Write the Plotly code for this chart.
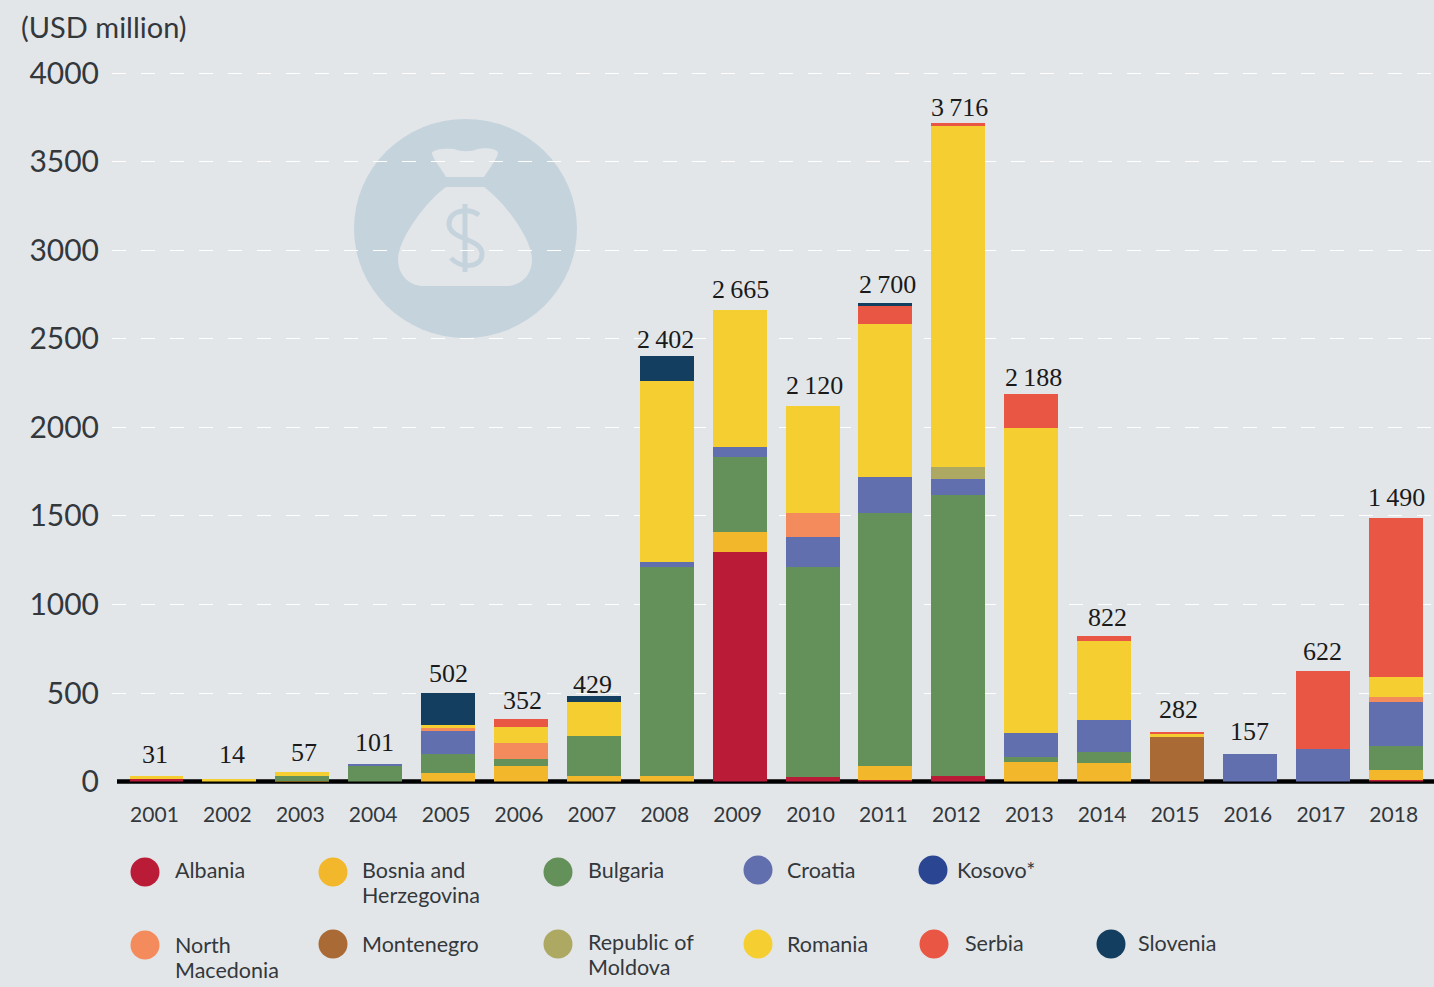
import plotly.graph_objects as go

W, H = 1434, 987
BG = "#E3E6E9"

years = list(range(2001, 2019))
totals = [31, 14, 57, 101, 502, 352, 429, 2402, 2665, 2120, 2700, 3716, 2188, 822, 282, 157, 622, 1490]
total_text = ["31", "14", "57", "101", "502", "352", "429", "2\u2009402", "2\u2009665", "2\u2009120", "2\u2009700",
              "3\u2009716", "2\u2009188", "822", "282", "157", "622", "1\u2009490"]

albania =    [13, 0, 0, 0, 0, 0, 0, 0, 1296, 26, 10, 32, 0, 0, 0, 0, 0, 11]
bosnia =     [0, 0, 5, 0, 48, 88, 32, 32, 113, 0, 78, 0, 112, 105, 0, 0, 0, 56]
bulgaria =   [0, 0, 25, 90, 110, 38, 227, 1179, 424, 1185, 1429, 1586, 25, 64, 0, 0, 0, 136]
croatia =    [0, 0, 0, 11, 133, 0, 0, 29, 57, 170, 203, 90, 136, 179, 0, 157, 182, 246]
kosovo =     [0] * 18
macedonia =  [0, 0, 0, 0, 10, 94, 0, 0, 0, 136, 0, 0, 0, 0, 0, 0, 0, 27]
montenegro = [0, 0, 0, 0, 0, 0, 0, 0, 0, 0, 0, 0, 0, 0, 252, 0, 0, 0]
moldova =    [0, 0, 0, 0, 0, 0, 0, 0, 0, 0, 0, 68, 0, 0, 0, 0, 0, 0]
romania =    [18, 14, 27, 0, 17, 88, 190, 1022, 775, 603, 864, 1924, 1724, 446, 18, 0, 0, 113]
serbia =     [0, 0, 0, 0, 0, 44, 0, 0, 0, 0, 101, 16, 191, 28, 12, 0, 440, 901]
slovenia =   [0, 0, 0, 0, 184, 0, 34, 140, 0, 0, 15, 0, 0, 0, 0, 0, 0, 0]

series = [
    ("Albania", albania, "#BA1C38"),
    ("Bosnia and Herzegovina", bosnia, "#F3B72C"),
    ("Bulgaria", bulgaria, "#64915A"),
    ("Croatia", croatia, "#626FAE"),
    ("Kosovo*", kosovo, "#2A4693"),
    ("North Macedonia", macedonia, "#F48B5D"),
    ("Montenegro", montenegro, "#A96A35"),
    ("Republic of Moldova", moldova, "#ADA963"),
    ("Romania", romania, "#F5CF31"),
    ("Serbia", serbia, "#E95744"),
    ("Slovenia", slovenia, "#143E5F"),
]

y_ticks = [0, 500, 1000, 1500, 2000, 2500, 3000, 3500, 4000]
y_tick_text = ["0", "500", "1000", "1500", "2000", "2500", "3000", "3500", "4000"]

# pixel offsets of the total labels relative to the top of each bar
label_dx = [-1, 3, 2, -1, 0, 2, -1, -1, 1, 2, 2, 1, 2, 3, 1, 0, 0, 1]
label_dy = [22, 25, 19, 21, 19, 19, 21, 17, 20, 21, 19, 16, 17, 18, 22, 22, 20, 20]

# legend swatches: colour, circle centre
legend_swatches = [
    ("#BA1C38", 145, 872), ("#F3B72C", 333, 872), ("#64915A", 558, 872), ("#626FAE", 758, 870), ("#2A4693", 933, 870),
    ("#F48B5D", 145, 945), ("#A96A35", 333, 944), ("#ADA963", 558, 944), ("#F5CF31", 758, 944), ("#E95744", 934, 944),
    ("#143E5F", 1111, 944),
]
# legend text lines: text, left x, centre y
legend_lines = [
    ("Albania", 174, 870), ("Bosnia and", 361, 870), ("Herzegovina", 361, 895), ("Bulgaria", 587, 870),
    ("Croatia", 786, 870), ("Kosovo*", 956, 870), ("North", 174, 945), ("Macedonia", 174, 970),
    ("Montenegro", 361, 944), ("Republic of", 587, 942), ("Moldova", 587, 967), ("Romania", 786, 944),
    ("Serbia", 964, 943), ("Slovenia", 1137, 943),
]


def px(x):
    return x / W


def py(y):
    return 1 - y / H


def path_paper(cmds):
    out = []
    for c in cmds:
        out.append(c[0] + " ".join(f"{px(c[i]):.5f},{py(c[i + 1]):.5f}" for i in range(1, len(c), 2)))
    return " ".join(out)


fig = go.Figure()
for name, vals, col in series:
    fig.add_bar(x=years, y=vals, name=name, marker=dict(color=col, line=dict(width=0)), showlegend=False,
                width=0.74)

shapes = []
# icon
shapes.append(dict(type="circle", xref="paper", yref="paper", layer="below", line_width=0, fillcolor="#C5D3DD",
                   x0=px(354), x1=px(577), y0=py(119), y1=py(338)))
bag_neck = [("M", 432, 153), ("C", 432, 149, 448, 148, 454, 149), ("C", 462, 152, 470, 152, 478, 149),
            ("C", 486, 147, 498, 149, 498, 153), ("C", 498, 157, 490, 168, 484, 177), ("L", 446, 177),
            ("C", 441, 168, 432, 158, 432, 153), ("Z",)]
bag_body = [("M", 446, 187), ("L", 484, 187), ("C", 505, 202, 532, 240, 532, 259), ("C", 532, 276, 520, 286, 506, 286),
            ("L", 424, 286), ("C", 410, 286, 398, 276, 398, 259), ("C", 398, 240, 425, 202, 446, 187), ("Z",)]
for p in (bag_neck, bag_body):
    shapes.append(dict(type="path", xref="paper", yref="paper", layer="below", line_width=0, fillcolor=BG,
                       path=path_paper(p)))
dollar = [("M", 479, 215), ("C", 470, 208, 449, 209, 449, 224), ("C", 449, 240, 482, 238, 482, 254),
          ("C", 482, 268, 460, 269, 451, 258)]
shapes.append(dict(type="path", xref="paper", yref="paper", layer="below", fillcolor="rgba(0,0,0,0)",
                   line=dict(color="#C5D3DD", width=5), path=path_paper(dollar)))
shapes.append(dict(type="line", xref="paper", yref="paper", layer="below", line=dict(color="#C5D3DD", width=5),
                   x0=px(465), x1=px(465), y0=py(204), y1=py(272)))
# baseline (paper-referenced so that its lower half is not clipped by the plot area)
shapes.append(dict(type="line", xref="paper", yref="paper", layer="below", line=dict(color="#000000", width=4.5),
                   x0=px(117), x1=1, y0=py(781.6), y1=py(781.6)))
# legend circles
for col, cx, cy in legend_swatches:
    shapes.append(dict(type="circle", xref="paper", yref="paper", line_width=0, fillcolor=col,
                       x0=px(cx - 14.5), x1=px(cx + 14.5), y0=py(cy - 14.5), y1=py(cy + 14.5)))

ann = []
for yr, tot, txt, dx, dy in zip(years, totals, total_text, label_dx, label_dy):
    ann.append(dict(x=yr, y=tot, xref="x", yref="y", text=txt, showarrow=False, xshift=dx, yshift=dy,
                    font=dict(family="Liberation Serif", size=26, color="#1a1a1a"), xanchor="center", yanchor="middle"))
for text, tx, ty in legend_lines:
    ann.append(dict(x=px(tx), y=py(ty), xref="paper", yref="paper", text=text, showarrow=False, align="left",
                    xanchor="left", yanchor="middle", borderpad=0,
                    font=dict(family="Lato", size=21.5, color="#33383c")))
ann.append(dict(x=px(18.5), y=py(27), xref="paper", yref="paper", text="(USD million)", showarrow=False,
                xanchor="left", yanchor="middle", font=dict(family="Lato", size=29, color="#33383c")))

fig.update_layout(
    width=W, height=H, margin=dict(l=0, r=0, t=0, b=0, autoexpand=False), autosize=False,
    paper_bgcolor=BG, plot_bgcolor="rgba(0,0,0,0)",
    barmode="stack", showlegend=False, shapes=shapes, annotations=ann,
    xaxis=dict(domain=[px(112), 1], range=[2000.39, 2018.525], tickmode="array", tickvals=years,
               ticktext=[str(y) for y in years], showgrid=False, zeroline=False, showline=False,
               ticks="outside", ticklen=14, tickcolor="rgba(0,0,0,0)", ticklabelshift=-2,
               tickfont=dict(family="Lato", size=21, color="#33383c")),
    yaxis=dict(domain=[py(781.6), py(60)], range=[0, (781.6 - 60) / 0.17714], tickmode="array", tickvals=y_ticks,
               ticktext=y_tick_text, showgrid=True, gridcolor="#FFFFFF", gridwidth=1.3, griddash="14px,15px",
               zeroline=False, showline=False, ticks="outside", ticklen=6, tickcolor="rgba(0,0,0,0)",
               tickfont=dict(family="Lato", size=30, color="#33383c")),
)

fig.write_html("out.html", config={"displayModeBar": False},
               post_script="document.body.style.margin='0';document.body.style.overflow='hidden';")
